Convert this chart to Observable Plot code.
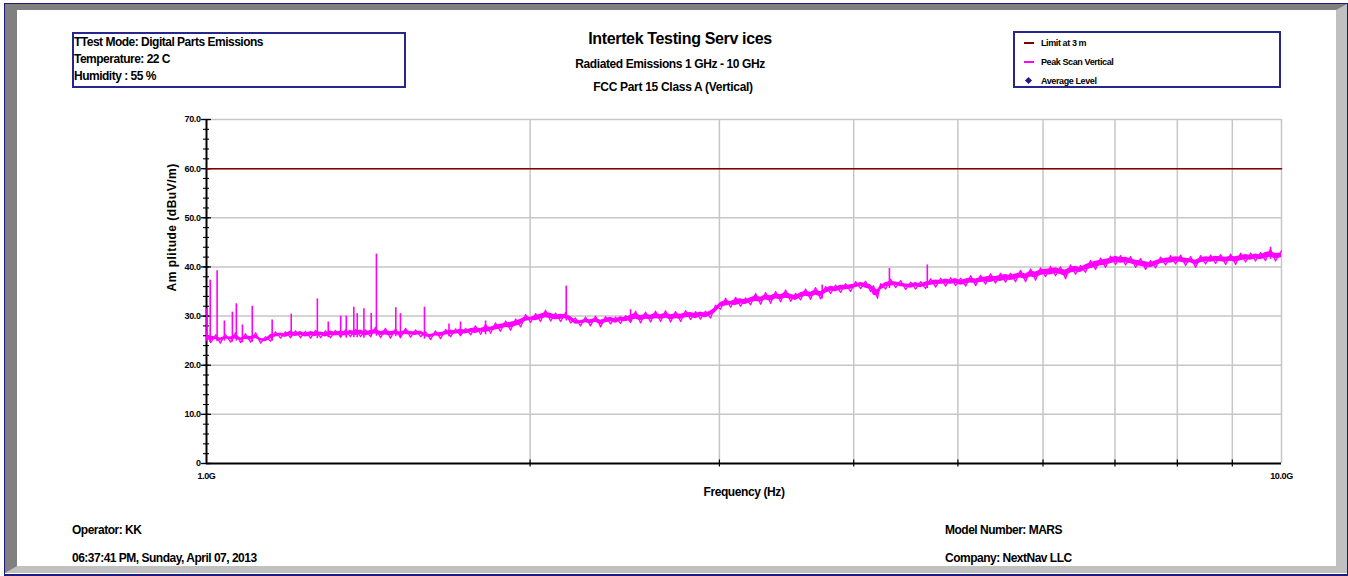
<!DOCTYPE html>
<html>
<head>
<meta charset="utf-8">
<script src="https://cdn.jsdelivr.net/npm/d3@7"></script>
<script src="https://cdn.jsdelivr.net/npm/@observablehq/plot@0.6"></script>
<style>
html, body { margin: 0; padding: 0; background: #fff; }
body { width: 1348px; height: 576px; position: relative; overflow: hidden;
  font-family: "Liberation Sans", Arial, sans-serif; font-weight: bold; color: #000; }
.abs { position: absolute; }
#outer { left: 4px; top: 3px; width: 1344px; height: 573px; box-sizing: border-box;
  border: 1px solid #1c1c7a; border-bottom: 2px solid #1c1c7a; }
#bevel { left: 5px; top: 4px; width: 1342px; height: 569px; box-sizing: border-box;
  border-left: 12px solid #808080; border-top: 6px solid #808080;
  border-right: 11px solid #c0c0c0; border-bottom: 7px solid #c0c0c0; }
#chart { left: 0; top: 0; }
#info { left: 72px; top: 32px; width: 334px; height: 56px; box-sizing: border-box;
  border: 2px solid #26268c; font-size: 12px; line-height: 17px; letter-spacing: -0.5px; padding-left: 0px; }
#legend { left: 1013px; top: 31px; width: 268px; height: 57px; box-sizing: border-box;
  border: 2px solid #26268c; font-size: 9px; letter-spacing: -0.4px; }
.lg { position: absolute; left: 26px; height: 12px; line-height: 12px; }
.sw { position: absolute; left: -17px; top: 5px; width: 10px; height: 1.5px; }
.dm { position: absolute; left: -15px; top: 3px; width: 5px; height: 5px; background: #1c1c8c; transform: rotate(45deg); }
.t { position: absolute; text-align: center; white-space: nowrap; }
.b { position: absolute; font-size: 12px; line-height: 14px; letter-spacing: -0.5px; white-space: nowrap; }
</style>
</head>
<body>
<div id="outer" class="abs"></div>
<div id="bevel" class="abs"></div>
<div id="chart" class="abs"></div>

<div id="info" class="abs">
  <div>TTest Mode: Digital Parts Emissions</div>
  <div>Temperature: 22 C</div>
  <div>Humidity : 55 %</div>
</div>

<div class="t" style="left:480px;width:400px;top:30px;font-size:16px;line-height:18px;letter-spacing:-0.35px;">Intertek Testing Serv ices</div>
<div class="t" style="left:470px;width:400px;top:57px;font-size:12px;line-height:14px;letter-spacing:-0.4px;">Radiated Emissions 1 GHz - 10 GHz</div>
<div class="t" style="left:473px;width:400px;top:80px;font-size:12px;line-height:14px;letter-spacing:-0.3px;">FCC Part 15 Class A (Vertical)</div>

<div id="legend" class="abs">
  <div class="lg" style="top:4px;"><span class="sw" style="background:#800000;"></span>Limit at 3 m</div>
  <div class="lg" style="top:23px;"><span class="sw" style="background:#ff00ff;"></span>Peak Scan Vertical</div>
  <div class="lg" style="top:42px;"><span class="dm"></span>Average Level</div>
</div>

<div class="b" style="left:72px;top:523px;">Operator: KK</div>
<div class="b" style="left:72px;top:551px;">06:37:41 PM, Sunday, April 07, 2013</div>
<div class="b" style="left:945px;top:523px;">Model Number: MARS</div>
<div class="b" style="left:945px;top:551px;">Company: NextNav LLC</div>

<script>
// ---- Data ----
// Peak scan (vertical): envelope of the dense noisy trace, frequency in GHz, level in dBuV/m
const bandFreqGHz = [
1.000,1.009,1.020,1.030,1.041,1.053,1.064,1.076,1.087,1.099,1.111,1.123,1.135,1.147,1.159,1.172,1.184,1.197,1.210,1.223,
1.236,1.250,1.263,1.277,1.290,1.304,1.318,1.333,1.347,1.361,1.376,1.391,1.406,1.421,1.436,1.452,1.467,1.483,1.499,1.515,
1.532,1.548,1.565,1.582,1.599,1.616,1.633,1.651,1.669,1.687,1.705,1.723,1.742,1.761,1.779,1.799,1.818,1.838,1.857,1.877,
1.898,1.918,1.939,1.960,1.981,2.002,2.024,2.045,2.067,2.090,2.112,2.135,2.158,2.181,2.204,2.228,2.252,2.276,2.301,2.326,
2.351,2.376,2.402,2.427,2.454,2.480,2.507,2.534,2.561,2.589,2.616,2.645,2.673,2.702,2.731,2.761,2.790,2.820,2.851,2.881,
2.912,2.944,2.975,3.007,3.040,3.073,3.106,3.139,3.173,3.207,3.242,3.277,3.312,3.348,3.384,3.420,3.457,3.494,3.532,3.570,
3.608,3.647,3.686,3.726,3.766,3.807,3.848,3.889,3.931,3.973,4.016,4.060,4.103,4.147,4.173,4.209,4.237,4.283,4.329,4.376,
4.423,4.470,4.519,4.567,4.616,4.666,4.716,4.767,4.819,4.870,4.923,4.976,5.030,5.084,5.139,5.194,5.248,5.305,5.362,5.419,
5.478,5.537,5.597,5.657,5.718,5.780,5.842,5.905,5.968,6.032,6.097,6.163,6.230,6.297,6.364,6.433,6.502,6.572,6.643,6.715,
6.787,6.860,6.934,7.009,7.084,7.160,7.238,7.316,7.394,7.474,7.554,7.636,7.718,7.801,7.885,7.970,8.056,8.143,8.231,8.319,
8.409,8.500,8.591,8.684,8.777,8.872,8.967,9.064,9.161,9.260,9.360,9.460,9.561,9.664,9.767,9.872,10.000
];
const bandLow = [
24.8,24.6,24.8,24.5,24.9,24.7,24.9,24.6,24.8,24.7,25.0,24.5,24.3,24.9,25.3,25.5,25.2,25.6,25.4,25.6,
25.3,25.5,25.4,25.6,25.3,25.6,25.5,25.7,25.5,25.8,25.6,25.8,25.5,25.8,25.9,25.6,25.7,25.5,25.8,25.6,
25.8,25.7,25.6,25.8,25.3,25.2,25.5,25.4,25.7,25.8,25.9,26.0,25.9,26.2,26.0,26.3,26.2,26.5,26.7,26.9,
27.2,27.1,27.5,27.8,28.5,28.7,28.6,28.9,29.2,29.0,28.8,28.9,29.0,28.6,27.9,28.0,28.2,28.0,28.3,27.8,
28.2,28.4,28.1,28.5,28.4,28.7,28.9,28.6,28.9,28.8,29.0,28.9,29.1,28.8,29.0,28.9,29.2,29.3,29.0,29.4,
29.2,29.6,30.3,31.4,31.6,31.8,31.7,32.0,31.9,32.3,32.5,32.4,32.8,32.6,33.0,32.9,33.2,33.0,32.7,33.3,
33.6,33.4,33.8,33.5,34.2,34.6,34.5,34.8,34.9,35.0,35.3,35.6,35.2,35.0,33.8,33.6,34.8,35.5,35.6,35.8,
35.5,35.4,35.2,35.5,35.3,35.6,35.8,35.9,36.0,36.1,36.0,36.2,35.8,36.1,36.3,36.2,36.4,36.5,36.4,36.7,
36.6,36.9,36.8,37.0,37.3,37.0,37.5,37.3,37.8,38.0,37.9,38.2,38.0,37.6,38.3,38.5,38.4,38.9,39.2,39.5,
39.8,39.9,40.2,40.5,40.3,40.4,40.2,39.9,39.7,39.5,39.4,39.8,40.2,40.4,40.3,40.6,40.5,40.3,40.4,39.9,
40.4,40.6,40.5,40.7,40.6,40.5,40.7,40.5,40.8,41.0,40.9,41.2,41.0,41.3,41.5,41.2,41.4
];
const bandHigh = [
26.5,26.4,26.2,26.0,26.3,26.2,26.6,26.0,26.4,26.3,26.6,25.9,25.8,26.7,26.8,27.0,26.8,27.4,27.0,27.3,
26.9,27.3,27.1,27.2,27.0,27.4,27.1,27.4,27.2,27.5,27.3,27.6,27.2,27.5,27.7,27.3,27.5,27.3,27.4,27.2,
27.5,27.3,27.2,27.4,26.8,26.7,27.0,27.1,27.3,27.6,27.4,27.8,27.5,27.9,28.0,27.9,28.3,28.2,28.6,28.8,
29.0,29.2,29.4,29.8,30.3,30.2,30.5,30.8,31.2,31.0,30.6,30.8,30.7,30.4,29.6,29.5,29.8,29.7,30.0,29.6,
29.9,30.2,29.8,30.3,30.1,30.6,31.0,30.5,30.8,30.6,31.0,30.7,31.1,30.7,30.9,30.8,31.1,31.2,30.9,31.3,
31.0,31.5,32.2,33.2,33.6,33.4,33.8,34.0,33.7,34.2,34.6,34.3,34.8,34.6,35.0,34.8,35.3,34.9,34.6,35.2,
35.5,35.3,35.8,35.4,36.0,36.5,36.3,36.7,36.6,36.8,37.0,37.3,37.1,36.8,36.2,35.8,36.6,37.3,37.5,37.4,
37.2,37.0,36.9,37.3,37.0,37.4,37.6,37.8,37.7,38.0,37.8,38.1,37.7,38.0,38.2,38.0,38.3,38.4,38.6,38.5,
38.7,38.9,38.7,39.0,39.3,39.0,39.6,39.4,39.8,40.0,40.1,40.3,40.0,39.8,40.4,40.6,40.3,40.9,41.3,41.6,
41.8,42.0,42.2,42.6,42.3,42.4,42.1,41.8,41.7,41.5,41.3,41.7,42.0,42.2,42.3,42.5,42.4,42.2,42.1,41.8,
42.3,42.5,42.4,42.6,42.5,42.4,42.6,42.5,42.8,43.0,42.8,43.1,42.9,43.4,43.6,43.2,43.3
];
// Narrow spikes of the peak trace (GHz, peak dBuV/m)
const spikeFreqGHz = [1.001,1.008,1.023,1.039,1.057,1.066,1.080,1.103,1.151,1.199,1.268,1.298,1.333,1.349,1.371,1.381,1.401,1.423,1.439,1.500,1.515,1.595,1.681,1.723,1.818,2.161,2.480,3.739,4.318,4.683,9.767];
const spikePeak    = [31.5, 37.3, 39.2, 29.0, 30.8, 32.5, 28.2, 32.0, 29.2, 30.4, 33.5, 28.8, 30.0, 30.0, 31.8, 30.5, 31.5, 30.5, 42.6, 31.7, 30.5, 31.8, 28.4, 28.8, 29.0, 36.1, 31.3, 36.3, 39.7, 40.4, 44.0];
// Limit at 3 m
const limitFreqGHz = [1, 10];
const limitLevel = [60, 60];
// Axes
const yMajorTicks = [0, 10, 20, 30, 40, 50, 60, 70];
const yMinorTicks = d3.range(0, 71, 2);
const xGridGHz = [2, 3, 4, 5, 6, 7, 8, 9, 10];
const xLabelGHz = [1, 10];

// ---- Build tables ----
const band = bandFreqGHz.map((f, i) => ({f, lo: bandLow[i], hi: bandHigh[i]}));
// core of the trace, and the saw-tooth running between the envelope values
const core = band.map(d => ({f: d.f, lo: d.lo + 0.45, hi: d.hi - 0.45}));
const saw = band.map((d, i) => ({f: d.f, v: i % 2 ? d.lo : d.hi}));
const spikes = spikeFreqGHz.map((f, i) => {
  const j = d3.minIndex(bandFreqGHz, g => Math.abs(Math.log(g / f)));
  return {f, base: bandLow[j], peak: spikePeak[i]};
});
const limit = limitFreqGHz.map((f, i) => ({f, v: limitLevel[i]}));

const chart = Plot.plot({
  width: 1348, height: 520,
  marginLeft: 206, marginRight: 67, marginTop: 119, marginBottom: 57,
  style: "background:transparent;font-family:'Liberation Sans',Arial,sans-serif;font-size:9px;font-weight:bold;letter-spacing:-0.4px;color:#000;overflow:visible;",
  x: {type: "log", domain: [1, 10]},
  y: {domain: [0, 70]},
  marks: [
    Plot.gridY(yMajorTicks.slice(1), {stroke: "#c6c6c6", strokeOpacity: 1, strokeWidth: 1.5}),
    Plot.gridX(xGridGHz, {stroke: "#c6c6c6", strokeOpacity: 1, strokeWidth: 1.5}),
    Plot.ruleX([1], {stroke: "#000", strokeWidth: 2}),
    Plot.ruleY([0], {stroke: "#000", strokeWidth: 2}),
    Plot.axisY(yMajorTicks, {tickSize: 10, dx: 5, fill: "none", stroke: "#000", strokeWidth: 1.3, label: null}),
    Plot.axisY(yMinorTicks, {tickSize: 6, dx: 3, fill: "none", stroke: "#000", strokeWidth: 1.1, label: null}),
    Plot.axisY(yMajorTicks, {tickSize: 0, tickPadding: 6, stroke: "none", fill: "#000",
      tickFormat: d => d === 0 ? "0" : d.toFixed(1), label: null}),
    Plot.axisX(xGridGHz.slice(0, -1), {tickSize: 7, dy: -3.5, fill: "none", stroke: "#000", strokeWidth: 1.2, label: null}),
    Plot.axisX(xLabelGHz, {tickSize: 0, tickPadding: 9, stroke: "none", fill: "#000",
      tickFormat: d => d.toFixed(1) + "G", label: null}),
    Plot.line(limit, {x: "f", y: "v", stroke: "#800000", strokeWidth: 1.5}),
    Plot.areaY(core, {x: "f", y1: "lo", y2: "hi", fill: "#ff00ff"}),
    Plot.line(saw, {x: "f", y: "v", stroke: "#ff00ff", strokeWidth: 1.3}),
    Plot.ruleX(spikes, {x: "f", y1: "base", y2: "peak", stroke: "#ff00ff", strokeWidth: 1.6}),
    Plot.text(["Am plitude (dBuV/m)"], {frameAnchor: "left", dx: -34, rotate: -90, fontSize: 12, fill: "#000"}),
    Plot.text(["Frequency (Hz)"], {frameAnchor: "bottom", dy: 32, fontSize: 12, fill: "#000"})
  ]
});
d3.select(chart).selectAll("text")
  .filter(function() { return this.textContent === "Am plitude (dBuV/m)"; })
  .style("letter-spacing", "0.5px");
document.getElementById("chart").appendChild(chart);
</script>
</body>
</html>
